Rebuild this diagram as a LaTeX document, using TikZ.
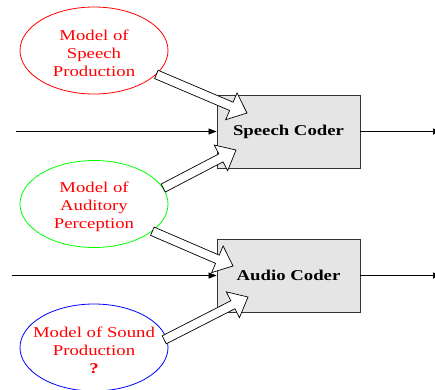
\documentclass[tikz,border=0pt]{standalone}
\usepackage{fontspec}
\newfontfamily\diagfont{Liberation Serif}[FakeStretch=1.25]
\usetikzlibrary{calc,arrows.meta,shapes.geometric}

\begin{document}
\begin{tikzpicture}[x=1pt,y=-1pt,>={Triangle[length=8pt,width=6pt]},
    font=\diagfont\fontsize{15}{18}\selectfont]
    \tikzstyle{model}=[ellipse,draw,line width=0.8pt,minimum width=148pt,minimum height=87pt,inner sep=0pt]
    \tikzstyle{modeltext}=[align=center,text=red,yshift=-2.5pt]
    \tikzstyle{coder}=[rectangle,draw=black!80,fill=gray!20,line width=0.8pt,minimum width=143pt,minimum height=73pt,font=\diagfont\fontsize{15}{18}\selectfont\bfseries]
    \tikzstyle{fat}=[draw=black,fill=white,line width=0.7pt,line join=miter]
    \clip (0,0) rectangle (435,389);

    \node[coder] (sc) at (288.5,131.5) {Speech Coder};
    \node[coder] (ac) at (288.5,275.5) {Audio Coder};

    \node[model,draw=red,label={[modeltext]center:{Model of\\Speech\\Production}}] (prod) at (94,50.5) {};
    \node[model,draw=green,label={[modeltext]center:{Model of\\Auditory\\Perception}}] (aud) at (94,204) {};
    \node[model,draw=blue,label={[modeltext]center:{Model of Sound\\Production\\\textbf{?}}}] (snd) at (94,347.5) {};

    % signal in and out
    \coordinate (in1) at (16,131.5);
    \coordinate (in2) at (12,275.5);
    \coordinate (out1) at (441,131.5);
    \coordinate (out2) at (441,275.5);
    \draw[->,line width=0.7pt] (in1) -- (sc.west);
    \draw[->,line width=0.7pt] (in2) -- (ac.west);
    \draw[->,line width=0.7pt] (sc.east) -- (out1);
    \draw[->,line width=0.7pt] (ac.east) -- (out2);

    % block arrows from the models
    \coordinate (s1) at (prod.-21);
    \coordinate (s2) at (aud.13);
    \coordinate (s3) at (aud.-25);
    \coordinate (s4) at ($(snd.6)+(-3,0)$);
    \coordinate (t1) at (247,113);
    \coordinate (t2) at (236,150);
    \coordinate (t3) at (233,266);
    \coordinate (t4) at (248,297);
    \foreach \from/\to in {s1/t1, s2/t2, s3/t3, s4/t4} {
        \coordinate (\from-b) at ($(\to)!17pt!(\from)$);
        \draw[fat] ($(\from)!4.5pt!90:(\to)$) -- ($(\from-b)!4.5pt!90:(\to)$)
            -- ($(\from-b)!14.5pt!90:(\to)$) -- (\to) -- ($(\from-b)!14.5pt!-90:(\to)$)
            -- ($(\from-b)!4.5pt!-90:(\to)$) -- ($(\from)!4.5pt!-90:(\to)$) -- cycle;
    }
\end{tikzpicture}
\end{document}
